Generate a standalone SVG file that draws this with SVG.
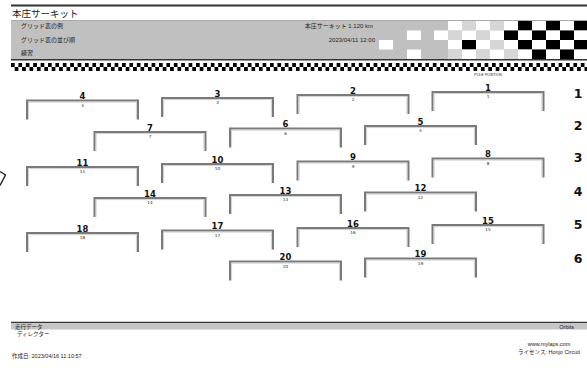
<svg xmlns="http://www.w3.org/2000/svg" xmlns:xlink="http://www.w3.org/1999/xlink" width="587" height="374" viewBox="0 0 587 374">
<style>
.jp{font-family:"Liberation Sans","Noto Sans CJK JP",sans-serif;fill:#222}
.hs{font-size:6px}
.num{font-family:"DejaVu Sans",sans-serif;font-weight:bold;font-size:8.5px;text-anchor:middle;fill:#111}
.sub{font-family:"DejaVu Sans",sans-serif;font-size:4.2px;text-anchor:middle;fill:#222}
.row{font-family:"DejaVu Sans",sans-serif;font-weight:bold;font-size:12.5px;text-anchor:middle;fill:#111}
.br{fill:none;stroke:#7a7a7a;stroke-width:2}
.br2{fill:none;stroke:#c4c4c4;stroke-width:0.8}
.w{fill:#fff}.g{fill:#d6d6d6}.b{fill:#000}
</style>
<defs>
<g id="bracket">
<path class="br" d="M0,19 V0 H111 V19"/>
<path class="br2" d="M1.6,19 V1.6 H109.4 V19"/>
</g>
<pattern id="chk" x="11" y="63" width="7.4" height="8" patternUnits="userSpaceOnUse">
<rect x="0" y="0" width="3.7" height="4" fill="#000"/>
<rect x="3.7" y="4" width="3.7" height="4" fill="#000"/>
</pattern>
</defs>
<rect width="587" height="374" fill="#fff"/>
<g id="header">
<line x1="11" y1="5.5" x2="587" y2="5.5" stroke="#333" stroke-width="2"/>
<text class="jp" x="12" y="17" font-size="9.5">本庄サーキット</text>
<rect x="11" y="20.5" width="576" height="39" fill="#c0c0c0"/>
<line x1="11" y1="20.5" x2="587" y2="20.5" stroke="#888" stroke-width="0.6"/>
<g id="flag">
<rect class="w" x="448" y="21" width="14" height="9.5"/><rect class="g" x="462" y="21" width="14" height="9.5"/><rect class="w" x="476" y="21" width="14" height="9.5"/><rect class="g" x="490" y="21" width="14" height="9.5"/><rect class="w" x="504" y="21" width="14" height="9.5"/><rect class="b" x="518" y="21" width="14" height="9.5"/><rect class="w" x="532" y="21" width="14" height="9.5"/><rect class="b" x="546" y="21" width="14" height="9.5"/><rect class="w" x="560" y="21" width="14" height="9.5"/><rect class="b" x="574" y="21" width="13" height="9.5"/>
<rect class="w" x="407" y="30.5" width="14" height="9.5"/><rect class="w" x="434" y="30.5" width="14" height="9.5"/><rect class="g" x="448" y="30.5" width="14" height="9.5"/><rect class="w" x="462" y="30.5" width="14" height="9.5"/><rect class="g" x="476" y="30.5" width="14" height="9.5"/><rect class="w" x="490" y="30.5" width="14" height="9.5"/><rect class="b" x="504" y="30.5" width="14" height="9.5"/><rect class="w" x="518" y="30.5" width="14" height="9.5"/><rect class="b" x="532" y="30.5" width="14" height="9.5"/><rect class="w" x="546" y="30.5" width="14" height="9.5"/><rect class="b" x="560" y="30.5" width="14" height="9.5"/><rect class="w" x="574" y="30.5" width="13" height="9.5"/>
<rect class="w" x="379" y="40" width="14" height="9.5"/><rect class="w" x="448" y="40" width="14" height="9.5"/><rect class="b" x="462" y="40" width="14" height="9.5"/><rect class="w" x="476" y="40" width="14" height="9.5"/><rect class="g" x="490" y="40" width="14" height="9.5"/><rect class="w" x="504" y="40" width="14" height="9.5"/><rect class="b" x="518" y="40" width="14" height="9.5"/><rect class="w" x="532" y="40" width="14" height="9.5"/><rect class="b" x="546" y="40" width="14" height="9.5"/><rect class="w" x="560" y="40" width="14" height="9.5"/><rect class="b" x="574" y="40" width="13" height="9.5"/>
<rect class="w" x="407" y="49.5" width="14" height="9.5"/><rect class="g" x="448" y="49.5" width="14" height="9.5"/><rect class="w" x="462" y="49.5" width="14" height="9.5"/><rect class="g" x="476" y="49.5" width="14" height="9.5"/><rect class="w" x="490" y="49.5" width="14" height="9.5"/><rect class="g" x="504" y="49.5" width="14" height="9.5"/><rect class="w" x="518" y="49.5" width="14" height="9.5"/><rect class="b" x="532" y="49.5" width="14" height="9.5"/><rect class="w" x="546" y="49.5" width="14" height="9.5"/><rect class="b" x="560" y="49.5" width="14" height="9.5"/><rect class="w" x="574" y="49.5" width="13" height="9.5"/>
</g>
<text class="jp hs" x="21" y="28">グリッド表の例</text>
<text class="jp hs" x="21" y="41.5">グリッド表の並び順</text>
<text class="jp hs" x="21" y="55">練習</text>
<text class="jp hs" x="373" y="28" text-anchor="end">本庄サーキット 1.120 km</text>
<text class="jp hs" x="375" y="41.5" text-anchor="end">2023/04/11 12:00</text>
<line x1="11" y1="59.8" x2="587" y2="59.8" stroke="#333" stroke-width="1.4"/>
<rect x="11" y="63" width="576" height="8" fill="url(#chk)"/>
<text x="488" y="76" font-family="Liberation Sans,sans-serif" font-size="3.6" text-anchor="middle" fill="#222">POLE POSITION</text>
</g>
<path d="M0,171.5 L5.5,175 L0,185.5" fill="none" stroke="#222" stroke-width="1.4"/>
<g id="connectors"/>
<g id="rows">
<text class="row" x="578" y="97.5">1</text>
<text class="row" x="578" y="130">2</text>
<text class="row" x="578" y="162">3</text>
<text class="row" x="578" y="195.5">4</text>
<text class="row" x="578" y="229">5</text>
<text class="row" x="578" y="262.5">6</text>
</g>
<g id="pos-1" transform="translate(432.5,92)"><use xlink:href="#bracket"/><text class="num" x="55.5" y="-1.5">1</text><text class="sub" x="55.5" y="6">1</text></g>
<g id="pos-2" transform="translate(297.5,95)"><use xlink:href="#bracket"/><text class="num" x="55.5" y="-1.5">2</text><text class="sub" x="55.5" y="6">2</text></g>
<g id="pos-3" transform="translate(162,98)"><use xlink:href="#bracket"/><text class="num" x="55.5" y="-1.5">3</text><text class="sub" x="55.5" y="6">3</text></g>
<g id="pos-4" transform="translate(27,100.5)"><use xlink:href="#bracket"/><text class="num" x="55.5" y="-1.5">4</text><text class="sub" x="55.5" y="6">4</text></g>
<g id="pos-5" transform="translate(365,126)"><use xlink:href="#bracket"/><text class="num" x="55.5" y="-1.5">5</text><text class="sub" x="55.5" y="6">5</text></g>
<g id="pos-6" transform="translate(230,128.5)"><use xlink:href="#bracket"/><text class="num" x="55.5" y="-1.5">6</text><text class="sub" x="55.5" y="6">6</text></g>
<g id="pos-7" transform="translate(94.5,132)"><use xlink:href="#bracket"/><text class="num" x="55.5" y="-1.5">7</text><text class="sub" x="55.5" y="6">7</text></g>
<g id="pos-8" transform="translate(432.5,158.5)"><use xlink:href="#bracket"/><text class="num" x="55.5" y="-1.5">8</text><text class="sub" x="55.5" y="6">8</text></g>
<g id="pos-9" transform="translate(297.5,161.5)"><use xlink:href="#bracket"/><text class="num" x="55.5" y="-1.5">9</text><text class="sub" x="55.5" y="6">9</text></g>
<g id="pos-10" transform="translate(162,164)"><use xlink:href="#bracket"/><text class="num" x="55.5" y="-1.5">10</text><text class="sub" x="55.5" y="6">10</text></g>
<g id="pos-11" transform="translate(27,167)"><use xlink:href="#bracket"/><text class="num" x="55.5" y="-1.5">11</text><text class="sub" x="55.5" y="6">11</text></g>
<g id="pos-12" transform="translate(365,192.5)"><use xlink:href="#bracket"/><text class="num" x="55.5" y="-1.5">12</text><text class="sub" x="55.5" y="6">12</text></g>
<g id="pos-13" transform="translate(230,195)"><use xlink:href="#bracket"/><text class="num" x="55.5" y="-1.5">13</text><text class="sub" x="55.5" y="6">13</text></g>
<g id="pos-14" transform="translate(94.5,198)"><use xlink:href="#bracket"/><text class="num" x="55.5" y="-1.5">14</text><text class="sub" x="55.5" y="6">14</text></g>
<g id="pos-15" transform="translate(432.5,225)"><use xlink:href="#bracket"/><text class="num" x="55.5" y="-1.5">15</text><text class="sub" x="55.5" y="6">15</text></g>
<g id="pos-16" transform="translate(297.5,228)"><use xlink:href="#bracket"/><text class="num" x="55.5" y="-1.5">16</text><text class="sub" x="55.5" y="6">16</text></g>
<g id="pos-17" transform="translate(162,230.5)"><use xlink:href="#bracket"/><text class="num" x="55.5" y="-1.5">17</text><text class="sub" x="55.5" y="6">17</text></g>
<g id="pos-18" transform="translate(27,233)"><use xlink:href="#bracket"/><text class="num" x="55.5" y="-1.5">18</text><text class="sub" x="55.5" y="6">18</text></g>
<g id="pos-19" transform="translate(365,258.5)"><use xlink:href="#bracket"/><text class="num" x="55.5" y="-1.5">19</text><text class="sub" x="55.5" y="6">19</text></g>
<g id="pos-20" transform="translate(230,261.5)"><use xlink:href="#bracket"/><text class="num" x="55.5" y="-1.5">20</text><text class="sub" x="55.5" y="6">20</text></g>
<g id="footer">
<line x1="11" y1="322.5" x2="587" y2="322.5" stroke="#333" stroke-width="1.5"/>
<rect x="11" y="323.3" width="576" height="6.2" fill="#c6c6c6"/>
<text class="jp" x="15" y="328.6" font-size="5.5">走行データ</text>
<text class="jp" x="17" y="335.8" font-size="5.5">ディレクター</text>
<text class="jp" x="574" y="328.6" font-size="5.5" text-anchor="end">Orbits</text>
<text class="jp" x="549" y="346" font-size="5.5" text-anchor="middle">www.mylaps.com</text>
<text class="jp" x="549" y="353.5" font-size="5.5" text-anchor="middle">ライセンス: Honjo Circuit</text>
<text class="jp" x="12" y="358" font-size="5.5">作成日: 2023/04/16 11:10:57</text>
</g>
</svg>
